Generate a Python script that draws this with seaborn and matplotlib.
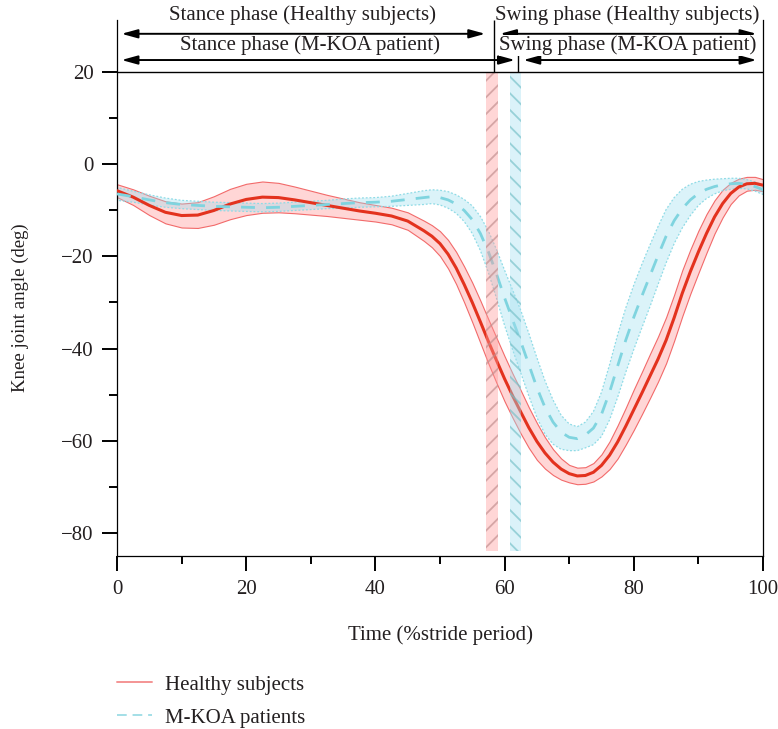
import numpy as np
import pandas as pd
import matplotlib
matplotlib.use('Agg')
import matplotlib.pyplot as plt
import seaborn as sns
from matplotlib.lines import Line2D


# stride time (%) and knee joint angle (deg)
stride_pct = [0, 2.5, 5, 7.5, 10, 12.5, 15, 17.5, 20, 22.5, 25, 27.5, 30, 32.5, 35, 37.5,
              40, 42.5, 45, 47.5, 48.75, 50, 51.25, 52.5, 53.75, 55, 56.25, 57.5, 58.75,
              60, 61.25, 62.5, 63.75, 65, 66.25, 67.5, 68.75, 70, 71.25, 72.5, 73.75, 75,
              76.25, 77.5, 78.75, 80, 81.25, 82.5, 83.75, 85, 86.25, 87.5, 88.75, 90,
              91.25, 92.5, 93.75, 95, 96.25, 97.5, 98.75, 100]

healthy_mean = [-5.7, -7.1, -8.9, -10.4, -11.1, -11.0, -10.0, -8.6, -7.6, -7.1, -7.2, -7.7,
                -8.3, -8.9, -9.5, -10.1, -10.6, -11.2, -12.3, -14.4, -15.6, -17.2, -19.5,
                -22.5, -26.1, -30.0, -34.2, -38.5, -42.6, -46.6, -50.3, -53.8, -57.2,
                -60.2, -62.7, -64.7, -66.2, -67.2, -67.7, -67.6, -66.9, -65.4, -63.2,
                -60.3, -56.9, -53.3, -49.7, -46.0, -42.3, -38.2, -33.3, -28.0, -23.3,
                -19.0, -15.0, -11.4, -8.5, -6.3, -4.9, -4.2, -4.1, -4.5]
healthy_sd = [1.4, 1.7, 2.1, 2.4, 2.6, 2.8, 3.1, 3.3, 3.4, 3.4, 3.2, 2.9, 2.6, 2.3, 2.1, 1.9,
              1.8, 1.8, 1.9, 2.2, 2.4, 2.7, 3.1, 3.5, 3.9, 4.3, 4.6, 4.8, 4.9, 4.9, 4.8,
              4.7, 4.4, 4.0, 3.4, 2.8, 2.3, 1.9, 1.8, 1.8, 2.0, 2.4, 3.0, 3.6, 4.0, 4.4,
              4.6, 4.8, 4.9, 5.0, 5.0, 5.0, 4.8, 4.6, 4.2, 3.6, 3.0, 2.3, 1.8, 1.5, 1.4,
              1.3]

koa_mean = [-6.4, -7.0, -7.7, -8.3, -8.7, -8.9, -9.1, -9.2, -9.3, -9.4, -9.3, -9.1, -8.9,
            -8.7, -8.5, -8.3, -8.2, -8.0, -7.6, -7.2, -7.0, -7.2, -7.7, -8.6, -10.0,
            -12.0, -15.0, -19.0, -23.8, -29.0, -33.8, -38.5, -43.5, -48.5, -52.8, -56.0,
            -58.2, -59.3, -59.6, -58.8, -57.3, -54.3, -49.5, -43.8, -38.2, -33.2, -28.6,
            -24.2, -19.8, -15.6, -12.2, -9.6, -7.7, -6.3, -5.4, -4.8, -4.4, -4.2, -4.1,
            -4.3, -4.8, -5.5]
koa_sd = [1.4, 1.2, 1.1, 1.0, 0.9, 0.9, 0.9, 0.9, 0.9, 0.9, 0.9, 0.9, 0.9, 0.9, 1.0, 1.0,
          1.0, 1.1, 1.3, 1.5, 1.5, 1.6, 1.8, 2.0, 2.4, 3.0, 3.7, 4.5, 5.3, 6.0, 6.5, 6.8,
          6.8, 6.5, 5.8, 4.8, 3.7, 2.9, 2.6, 2.8, 3.6, 4.8, 6.0, 6.8, 7.0, 7.0, 6.9, 6.7,
          6.3, 5.8, 5.0, 4.2, 3.4, 2.6, 2.0, 1.6, 1.3, 1.2, 1.1, 1.0, 1.0, 1.0]

# gait events: toe-off band (start, end) and phase boundary line
healthy_toe_off = (57.1, 59.0, 58.3)
koa_toe_off = (60.9, 62.5, 62.1)

RED = '#e3321e'
CYAN = '#7fd4df'
TXT = '#231f20'

sns.set_style('ticks')
plt.rcParams['font.family'] = ['Liberation Serif', 'DejaVu Serif']
plt.rcParams['hatch.linewidth'] = 1.3
plt.rcParams['text.color'] = TXT
FS = 15

fig = plt.figure(figsize=(7.78, 7.29), dpi=100)
ax = fig.add_axes([117 / 778, 1 - 556 / 729, (763 - 117) / 778, (556 - 20) / 729])

df_h = pd.DataFrame({'t': stride_pct, 'm': healthy_mean, 's': healthy_sd})
df_k = pd.DataFrame({'t': stride_pct, 'm': koa_mean, 's': koa_sd})

# shaded +/- bands
ax.fill_between(df_h['t'], df_h['m'] - df_h['s'], df_h['m'] + df_h['s'],
                facecolor=(1.0, 0.55, 0.55, 0.35), edgecolor='#f26a6a', lw=0.8, zorder=2)
ax.fill_between(df_k['t'], df_k['m'] - df_k['s'], df_k['m'] + df_k['s'],
                facecolor=(0.6, 0.87, 0.94, 0.35), edgecolor='#8fdbe6', lw=0.9,
                linestyle=(0, (1.5, 1.5)), zorder=2)

sns.lineplot(data=df_h, x='t', y='m', color=RED, lw=2.2, ax=ax, zorder=4)
sns.lineplot(data=df_k, x='t', y='m', color=CYAN, lw=2.0, ax=ax, zorder=4)
ax.lines[-1].set_dashes([5, 4])

# hatched toe-off bands
ax.fill_between([healthy_toe_off[0], healthy_toe_off[1]], -84, 20,
                facecolor=(1.0, 0.6, 0.6, 0.4), edgecolor=(0.75, 0.55, 0.55, 0.65),
                hatch='//', lw=0, zorder=5)
ax.fill_between([koa_toe_off[0], koa_toe_off[1]], -84, 20,
                facecolor=(0.65, 0.88, 0.94, 0.4), edgecolor=(0.45, 0.75, 0.78, 0.65),
                hatch='\\\\', lw=0, zorder=5)

# phase annotations above the plot
ax.axhline(20, color='black', lw=1.0, zorder=6)
ax.vlines(healthy_toe_off[2], 20, 31.4, color='black', lw=1.0)
ax.vlines(koa_toe_off[2], 20, 26.0, color='black', lw=1.0)
astyle = dict(arrowstyle='<|-|>,head_length=0.8,head_width=0.22', color='black',
              lw=1.4, mutation_scale=12, shrinkA=0, shrinkB=0)
ax.annotate('', xy=(0.7, 28.4), xytext=(57.0, 28.4), arrowprops=astyle)
ax.annotate('', xy=(59.3, 28.4), xytext=(99.0, 28.4), arrowprops=astyle)
ax.annotate('', xy=(0.7, 22.7), xytext=(61.6, 22.7), arrowprops=astyle)
ax.annotate('', xy=(62.9, 22.7), xytext=(99.0, 22.7), arrowprops=astyle)
ax.text(28.7, 32.5, 'Stance phase (Healthy subjects)', ha='center', va='center',
        fontsize=FS, clip_on=False)
ax.text(78.9, 32.5, 'Swing phase (Healthy subjects)', ha='center', va='center',
        fontsize=FS, clip_on=False)
ax.text(29.8, 25.9, 'Stance phase (M-KOA patient)', ha='center', va='center',
        fontsize=FS, bbox=dict(fc='white', ec='none', pad=0.3))
ax.text(79.1, 25.9, 'Swing phase (M-KOA patient)', ha='center', va='center',
        fontsize=FS, bbox=dict(fc='white', ec='none', pad=0.3))

ax.set_xlim(0, 100)
ax.set_ylim(-85.1, 31.4)
ax.set_xticks([0, 20, 40, 60, 80, 100])
ax.set_xticks([10, 30, 50, 70, 90], minor=True)
ax.set_yticks([-80, -60, -40, -20, 0, 20])
ax.set_yticks([-70, -50, -30, -10, 10], minor=True)
ax.tick_params(which='major', length=11, width=1.4, labelsize=FS, pad=6, color='black',
               labelcolor=TXT)
ax.tick_params(which='minor', length=5.5, width=1.4, color='black')
ax.tick_params(axis='y', which='both', right=False)
ax.set_xlabel('')
ax.set_ylabel('')
for side in ['left', 'right', 'bottom']:
    ax.spines[side].set_visible(True)
    ax.spines[side].set_color('black')
    ax.spines[side].set_linewidth(0.9)
ax.spines['top'].set_visible(False)

fig.text(440 / 778, 1 - 635 / 729, 'Time (%stride period)', ha='center', va='center',
         fontsize=FS)
fig.text(20 / 778, 1 - 308 / 729, 'Knee joint angle (deg)', ha='center', va='center',
         rotation=90, fontsize=13.5)

handles = [Line2D([], [], color='#f49494', lw=1.4),
           Line2D([], [], color='#a3dfe7', lw=1.4, dashes=[5, 3])]
fig.legend(handles, ['Healthy subjects', 'M-KOA patients'], loc='upper left',
           bbox_to_anchor=(117 / 778, 1 - 675 / 729), frameon=False, fontsize=FS,
           borderpad=0, borderaxespad=0, handlelength=1.7, handletextpad=0.6,
           labelspacing=0.65)

fig.savefig('out.png', dpi=100)
